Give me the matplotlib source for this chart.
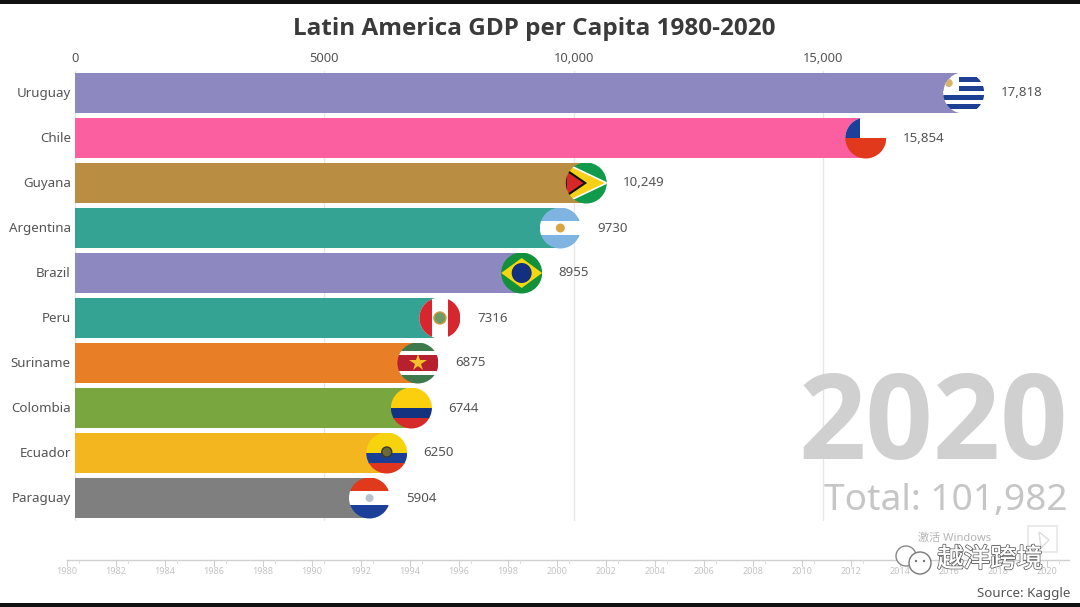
import matplotlib
matplotlib.use('Agg')
import matplotlib.pyplot as plt
import matplotlib.patheffects as pe
from matplotlib.patches import Circle, Rectangle, Polygon
from matplotlib.transforms import ScaledTranslation

plt.rcParams['font.family'] = ['Noto Sans', 'Noto Sans CJK SC', 'DejaVu Sans']

countries = ['Uruguay', 'Chile', 'Guyana', 'Argentina', 'Brazil', 'Peru',
             'Suriname', 'Colombia', 'Ecuador', 'Paraguay']
gdp = [17818, 15854, 10249, 9730, 8955, 7316, 6875, 6744, 6250, 5904]
value_labels = ['17,818', '15,854', '10,249', '9730', '8955', '7316', '6875', '6744', '6250', '5904']
colors = ['#8e88c0', '#fb5f9f', '#b98d42', '#35a393', '#8e88c0', '#35a393',
          '#e87e26', '#7aa63f', '#f3b61f', '#7f7f7f']
x_ticks = [0, 5000, 10000, 15000]
x_tick_labels = ['0', '5000', '10,000', '15,000']
year_labels = list(range(1980, 2021, 2))

# horizontal stripes for each flag, top to bottom: (fraction of height, colour)
stripes = {
    'Uruguay': [(1/9, '#ffffff'), (1/9, '#1d3f94'), (1/9, '#ffffff'), (1/9, '#1d3f94'), (1/9, '#ffffff'),
                (1/9, '#1d3f94'), (1/9, '#ffffff'), (1/9, '#1d3f94'), (1/9, '#ffffff')],
    'Chile': [(0.5, '#ffffff'), (0.5, '#e0391c')],
    'Guyana': [(1, '#109a4b')],
    'Argentina': [(1/3, '#7fb3e2'), (1/3, '#ffffff'), (1/3, '#7fb3e2')],
    'Brazil': [(1, '#12903c')],
    'Peru': [(1, '#ffffff')],
    'Suriname': [(0.2, '#3f7a4c'), (0.1, '#ffffff'), (0.4, '#b6202f'), (0.1, '#ffffff'), (0.2, '#3f7a4c')],
    'Colombia': [(0.5, '#fbcf0e'), (0.25, '#12337f'), (0.25, '#d42a2a')],
    'Ecuador': [(0.5, '#f6d30d'), (0.25, '#1b3f94'), (0.25, '#e0361f')],
    'Paraguay': [(1/3, '#e0391c'), (1/3, '#ffffff'), (1/3, '#1c3f9a')],
}

W, H = 1080, 607
fig = plt.figure(figsize=(W / 100, H / 100), dpi=100, facecolor='white')

# main bars, placed so that the value axis lines up with the reference
left, right = 75, 1030
top, bottom = 70.5, 520.5
ax = fig.add_axes([left / W, 1 - bottom / H, (right - left) / W, (bottom - top) / H])
ypos = list(range(len(countries)))
ax.barh(ypos, gdp, height=0.89, color=colors, zorder=2)
ax.set_ylim(9.5, -0.5)
ax.set_xlim(0, (right - left) / 0.04988)
ax.set_yticks(ypos, countries, fontsize=9.6, color='#555555')
ax.set_xticks(x_ticks, x_tick_labels, fontsize=9.3, color='#555555')
ax.xaxis.tick_top()
ax.tick_params(axis='both', length=0)
ax.tick_params(axis='y', pad=3)
ax.tick_params(axis='x', pad=4)
ax.grid(axis='x', color='#e6e6e6', lw=1, zorder=0)
for s in ax.spines.values():
    s.set_visible(False)
nudge = ScaledTranslation(0, 1 / 100, fig.dpi_scale_trans)
for lab in ax.get_yticklabels():
    lab.set_transform(lab.get_transform() + nudge)
for i, label in enumerate(value_labels):
    ax.annotate(label, (gdp[i], i), xytext=(37, 0), textcoords='offset pixels',
                va='center', ha='left', fontsize=9.6, color='#555555', zorder=5)

# overlay in pixel coordinates for flags, timeline and page furniture
ov = fig.add_axes([0, 0, 1, 1], facecolor='none')
ov.set_xlim(0, W)
ov.set_ylim(H, 0)
ov.axis('off')


def draw_flag(name, cx, cy, r=20.5):
    clip = Circle((cx, cy), r, transform=ov.transData)
    arts = []
    y = cy - r
    for frac, col in stripes[name]:
        arts.append(ov.add_patch(Rectangle((cx - r, y), 2 * r, frac * 2 * r + 0.3, fc=col, lw=0)))
        y += frac * 2 * r
    if name == 'Uruguay':
        arts.append(ov.add_patch(Rectangle((cx - r, cy - r), r * 0.75, r, fc='white', lw=0)))
        arts.append(ov.add_patch(Circle((cx - 15, cy - 10), 4, fc='#d9b36a', lw=0)))
    elif name == 'Chile':
        arts.append(ov.add_patch(Rectangle((cx - r, cy - r), r * 0.7, r, fc='#1c3f9a', lw=0)))
    elif name == 'Guyana':
        arts.append(ov.add_patch(Polygon([(cx - r, cy - r * 0.95), (cx + r, cy), (cx - r, cy + r * 0.95)], fc='#f7d117', ec='white', lw=1.2)))
        arts.append(ov.add_patch(Polygon([(cx - r, cy - r * 0.65), (cx - 1, cy), (cx - r, cy + r * 0.65)], fc='#d62828', ec='#111111', lw=1.5)))
    elif name == 'Argentina':
        arts.append(ov.add_patch(Circle((cx, cy), 4.5, fc='#d9a441', lw=0)))
    elif name == 'Brazil':
        arts.append(ov.add_patch(Polygon([(cx - r, cy), (cx, cy - 15), (cx + r, cy), (cx, cy + 15)], fc='#f6d70f', lw=0)))
        arts.append(ov.add_patch(Circle((cx, cy), 10, fc='#132f7f', lw=0)))
    elif name == 'Peru':
        arts.append(ov.add_patch(Rectangle((cx - r, cy - r), r * 0.62, 2 * r, fc='#d7262d', lw=0)))
        arts.append(ov.add_patch(Rectangle((cx + r * 0.38, cy - r), r * 0.62, 2 * r, fc='#d7262d', lw=0)))
        arts.append(ov.add_patch(Circle((cx, cy), 6, fc='#6f9a63', ec='#c99b3f', lw=1)))
    elif name == 'Suriname':
        ov.plot([cx], [cy], marker='*', ms=13, color='#f6c02c', mew=0, zorder=4)
    elif name == 'Ecuador':
        arts.append(ov.add_patch(Circle((cx, cy - 1), 5, fc='#6d6a3a', ec='#3a3a2a', lw=1)))
    elif name == 'Paraguay':
        arts.append(ov.add_patch(Circle((cx, cy), 4, fc='#b9c3cf', lw=0)))
    for a in arts:
        a.set_clip_path(clip)


fig.canvas.draw()
inv = ov.transData.inverted()
for i, name in enumerate(countries):
    px = inv.transform(ax.transData.transform((gdp[i], i)))
    draw_flag(name, px[0], px[1])

ov.text(534.5, 29, 'Latin America GDP per Capita 1980-2020', ha='center', va='center',
        family='Open Sans', fontsize=17.5, fontweight='bold', color='#3a3a3a')

ov.text(1068, 429, '2020', ha='right', va='center', family='Open Sans', fontsize=85,
        fontweight='bold', color='#d0d0d0')
ov.text(1068, 501, 'Total: 101,982', ha='right', va='center', fontsize=26.7, color='#c6c6c6')

# timeline slider along the bottom
x0, per_label = 67, 24.5
line_y = 560
ov.plot([x0, 1069], [line_y, line_y], color='#d0d0d0', lw=1)
for yr in year_labels:
    xp = x0 + (yr - 1980) * per_label
    ov.plot([xp, xp], [line_y, line_y + 6], color='#cfcfcf', lw=0.8)
    ov.plot([xp + per_label / 2] * 2, [line_y, line_y + 3], color='#dcdcdc', lw=0.7)
    ov.text(xp, 572, str(yr), ha='center', va='center', fontsize=6.5, color='#c4c4c4')

# page furniture: screen edges, source, watermark
ov.add_patch(Rectangle((0, 0), W, 4, fc='#111111', lw=0))
ov.add_patch(Rectangle((0, 603), W, 4, fc='#111111', lw=0))
ov.text(1070, 594, 'Source: Kaggle', ha='right', va='center', fontsize=9.6, color='#555555')
ov.text(955, 538, '激活 Windows', ha='center', va='center', fontsize=8, color='#b5b5b5')
ov.add_patch(Rectangle((1028, 526), 29, 26, fc='none', ec='#e6e6e6', lw=1.2))
ov.add_patch(Polygon([(1039, 532), (1049, 540), (1041, 548)], fc='none', ec='#dddddd', lw=1))
# wechat-style bubbles behind the watermark text
ov.add_patch(Circle((906, 556), 10, fc='white', ec='#888888', lw=1, zorder=6))
ov.add_patch(Circle((920, 563), 11, fc='white', ec='#777777', lw=1, zorder=6))
for dot in [(916, 561), (924, 561)]:
    ov.add_patch(Circle(dot, 1.2, fc='#777777', lw=0, zorder=7))
wm = ov.text(990, 560, '越洋跨境', ha='center', va='center', fontsize=19, color='white', zorder=7)
wm.set_path_effects([pe.withStroke(linewidth=1.4, foreground='#6a6a6a'), pe.Normal()])

fig.savefig('out.png', dpi=100)
